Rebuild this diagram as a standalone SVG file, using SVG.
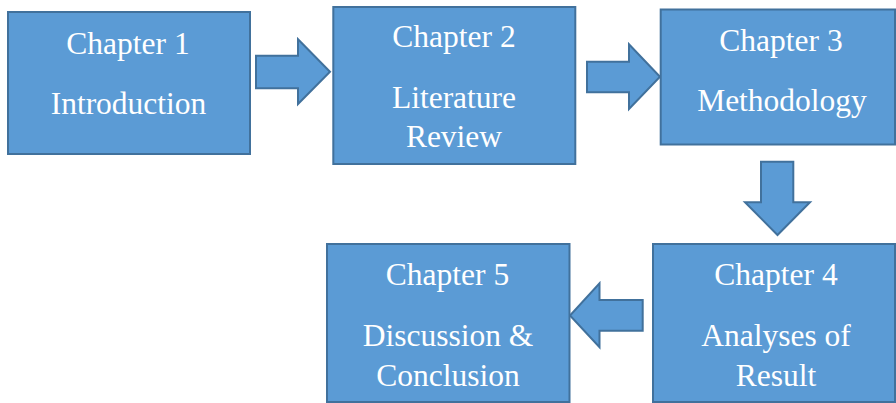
<svg xmlns="http://www.w3.org/2000/svg" width="896" height="403" viewBox="0 0 896 403">
<style>
.box{fill:#5B9BD5;stroke:#41719C;stroke-width:2}
.arr{fill:#5B9BD5;stroke:#41719C;stroke-width:2;stroke-linejoin:miter}
.t{font-family:'Liberation Serif','Times New Roman',serif;font-size:31.5px;fill:#FFFFFF;text-anchor:middle}
</style>
<rect width="896" height="403" fill="#FFFFFF"/>
<g id="connectors">
<polygon class="arr" points="256,55.7 298,55.7 298,39.3 330,71.7 298,104 298,88.3 256,88.3"/>
<polygon class="arr" points="587,61.7 629,61.7 629,44.3 660,76.7 629,109 629,92.3 587,92.3"/>
<polygon class="arr" points="761,161.7 793.3,161.7 793.3,202.3 810,202.3 777.5,235 745,202.3 761,202.3"/>
<polygon class="arr" points="642.7,300 599.5,300 599.5,283.3 570,315.5 599.5,347.3 599.5,330.7 642.7,330.7"/>
</g>
<g id="chapter1">
<rect class="box" x="8" y="12" width="242" height="142"/>
<text class="t" x="128" y="53.5">Chapter 1</text>
<text class="t" x="128.5" y="114">Introduction</text>
</g>
<g id="chapter2">
<rect class="box" x="333.3" y="7" width="242" height="157"/>
<text class="t" x="454" y="46.7">Chapter 2</text>
<text class="t" x="454" y="108.3">Literature</text>
<text class="t" x="454" y="146.7">Review</text>
</g>
<g id="chapter3">
<rect class="box" x="660.7" y="9.5" width="234.3" height="135"/>
<text class="t" x="781" y="51">Chapter 3</text>
<text class="t" x="782" y="111">Methodology</text>
</g>
<g id="chapter4">
<rect class="box" x="653" y="244" width="242" height="158"/>
<text class="t" x="776" y="285">Chapter 4</text>
<text class="t" x="776" y="346">Analyses of</text>
<text class="t" x="776" y="385.7">Result</text>
</g>
<g id="chapter5">
<rect class="box" x="327" y="244" width="242.5" height="158"/>
<text class="t" x="447.5" y="285">Chapter 5</text>
<text class="t" x="448" y="346">Discussion &amp;</text>
<text class="t" x="448" y="385.7">Conclusion</text>
</g>
</svg>
